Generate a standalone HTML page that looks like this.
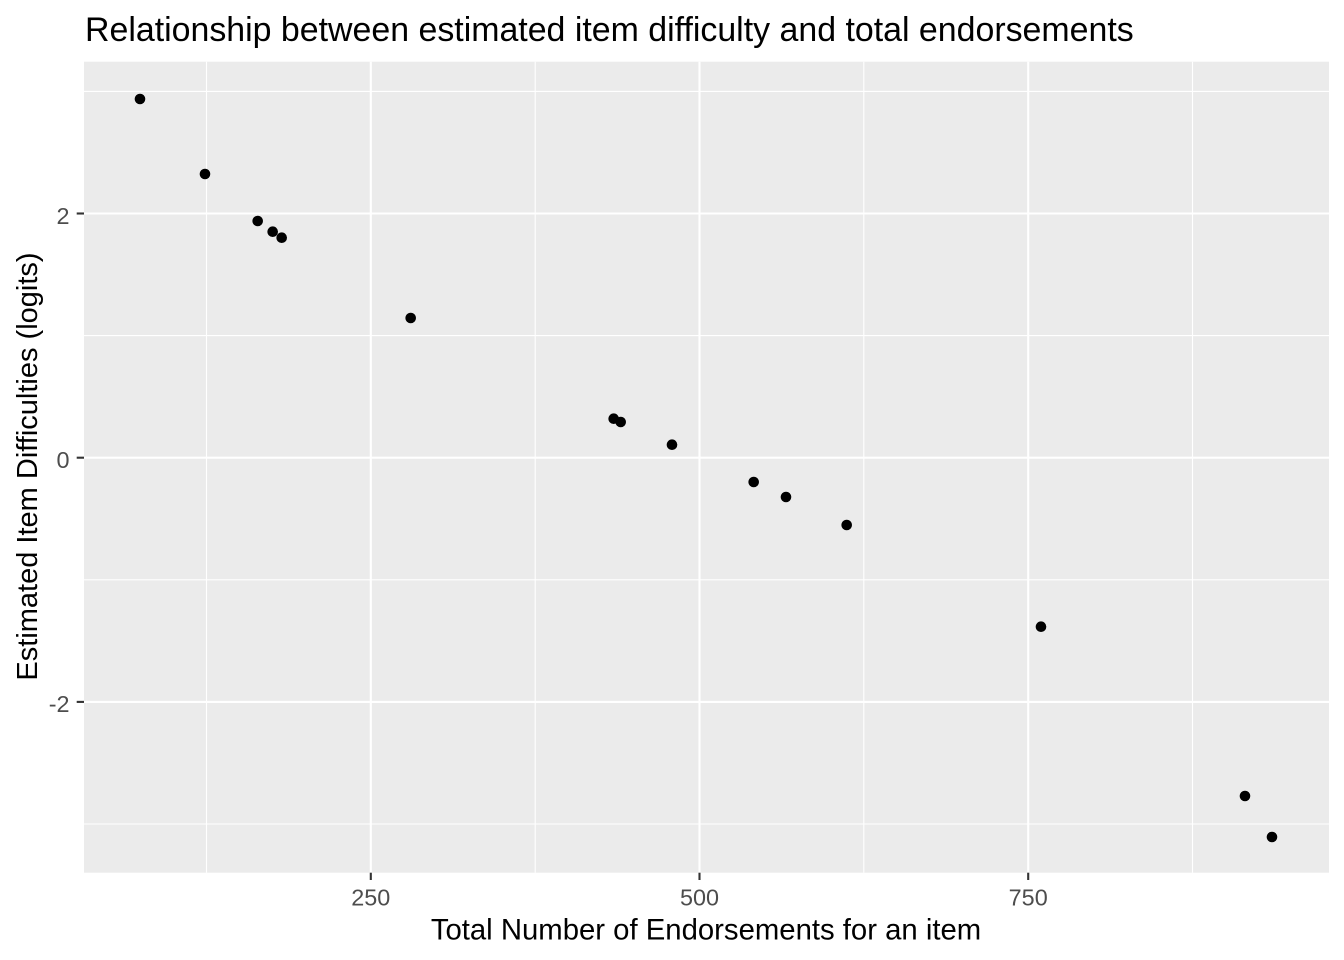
<!DOCTYPE html>
<html>
<head>
<meta charset="utf-8">
<style>
  html, body { margin: 0; padding: 0; background: #ffffff; }
  svg { display: block; }
  text { font-family: "Liberation Sans", Arial, sans-serif; }
</style>
</head>
<body>
<svg width="1344" height="960" viewBox="0 0 1344 960" xmlns="http://www.w3.org/2000/svg">
  <rect x="0" y="0" width="1344" height="960" fill="#ffffff"/>
  <!-- panel -->
  <rect x="84" y="61.7" width="1245" height="811" fill="#EBEBEB"/>
  <!-- minor gridlines -->
  <g stroke="#ffffff" stroke-width="1.1">
    <line x1="206.5" y1="61.7" x2="206.5" y2="872.7"/>
    <line x1="535.2" y1="61.7" x2="535.2" y2="872.7"/>
    <line x1="863.8" y1="61.7" x2="863.8" y2="872.7"/>
    <line x1="1192.5" y1="61.7" x2="1192.5" y2="872.7"/>
    <line x1="84" y1="91.4" x2="1329" y2="91.4"/>
    <line x1="84" y1="335.6" x2="1329" y2="335.6"/>
    <line x1="84" y1="579.8" x2="1329" y2="579.8"/>
    <line x1="84" y1="824" x2="1329" y2="824"/>
  </g>
  <!-- major gridlines -->
  <g stroke="#ffffff" stroke-width="2.1">
    <line x1="370.8" y1="61.7" x2="370.8" y2="872.7"/>
    <line x1="699.5" y1="61.7" x2="699.5" y2="872.7"/>
    <line x1="1028.2" y1="61.7" x2="1028.2" y2="872.7"/>
    <line x1="84" y1="213.5" x2="1329" y2="213.5"/>
    <line x1="84" y1="457.7" x2="1329" y2="457.7"/>
    <line x1="84" y1="701.9" x2="1329" y2="701.9"/>
  </g>
  <!-- points -->
  <g fill="#000000">
    <circle cx="140" cy="99" r="5.3"/>
    <circle cx="205" cy="174" r="5.3"/>
    <circle cx="257.7" cy="221" r="5.3"/>
    <circle cx="272.7" cy="231.7" r="5.3"/>
    <circle cx="281.7" cy="237.7" r="5.3"/>
    <circle cx="410.7" cy="318" r="5.3"/>
    <circle cx="613.7" cy="418.7" r="5.3"/>
    <circle cx="620.7" cy="422" r="5.3"/>
    <circle cx="672" cy="444.7" r="5.3"/>
    <circle cx="753.7" cy="482" r="5.3"/>
    <circle cx="786" cy="497" r="5.3"/>
    <circle cx="846.7" cy="525" r="5.3"/>
    <circle cx="1041" cy="626.7" r="5.3"/>
    <circle cx="1245" cy="796" r="5.3"/>
    <circle cx="1272" cy="837" r="5.3"/>
  </g>
  <!-- ticks -->
  <g stroke="#333333" stroke-width="2.1">
    <line x1="370.8" y1="872.7" x2="370.8" y2="880"/>
    <line x1="699.5" y1="872.7" x2="699.5" y2="880"/>
    <line x1="1028.2" y1="872.7" x2="1028.2" y2="880"/>
    <line x1="76.7" y1="213.5" x2="84" y2="213.5"/>
    <line x1="76.7" y1="457.7" x2="84" y2="457.7"/>
    <line x1="76.7" y1="701.9" x2="84" y2="701.9"/>
  </g>
  <!-- tick labels -->
  <g fill="#4D4D4D" font-size="23.4">
    <text x="370.8" y="905.5" text-anchor="middle">250</text>
    <text x="699.5" y="905.5" text-anchor="middle">500</text>
    <text x="1028.2" y="905.5" text-anchor="middle">750</text>
    <text x="69.5" y="223.8" text-anchor="end">2</text>
    <text x="69.5" y="468" text-anchor="end">0</text>
    <text x="69.5" y="712.2" text-anchor="end">-2</text>
  </g>
  <!-- axis titles -->
  <text x="706" y="939.5" text-anchor="middle" font-size="29.3" fill="#000000">Total Number of Endorsements for an item</text>
  <text transform="translate(37,466.5) rotate(-90)" x="0" y="0" text-anchor="middle" font-size="29" fill="#000000">Estimated Item Difficulties (logits)</text>
  <!-- title -->
  <text x="85" y="41" font-size="33.9" fill="#000000">Relationship between estimated item difficulty and total endorsements</text>
</svg>
</body>
</html>
